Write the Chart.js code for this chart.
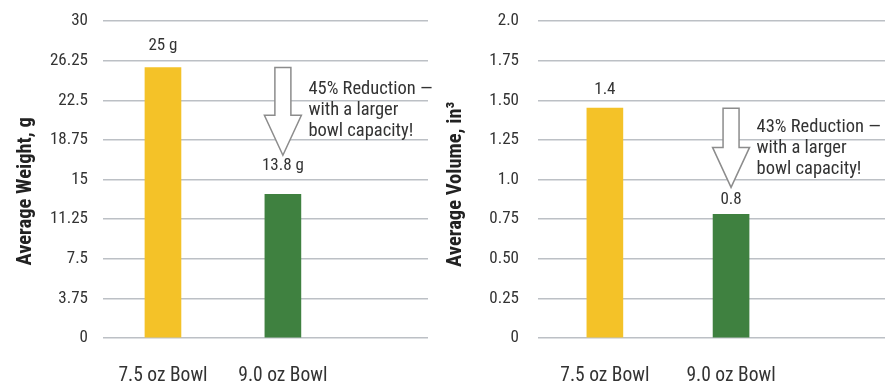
<!DOCTYPE html>
<html>
<head>
<meta charset="utf-8">
<script src="https://cdn.jsdelivr.net/npm/chart.js@4.4.1/dist/chart.umd.min.js"></script>
<style>
  html, body { margin: 0; padding: 0; background: #fff; }
  #wrap { display: flex; width: 886px; height: 385px; }
  .box { position: relative; height: 385px; }
</style>
</head>
<body>
<div id="wrap">
  <div class="box" style="width:440px"><canvas id="weight"></canvas></div>
  <div class="box" style="width:446px"><canvas id="volume"></canvas></div>
</div>
<script>
const categories = ["7.5 oz Bowl", "9.0 oz Bowl"];

const weightValues = [25.6, 13.6];
const weightLabels = ["25 g", "13.8 g"];
const weightTicks = ["0", "3.75", "7.5", "11.25", "15", "18.75", "22.5", "26.25", "30"];
const weightNote = ["45% Reduction \u2014", "with a larger", "bowl capacity!"];

const volumeValues = [1.45, 0.78];
const volumeLabels = ["1.4", "0.8"];
const volumeTicks = ["0", "0.25", "0.50", "0.75", "1.0", "1.25", "1.50", "1.75", "2.0"];
const volumeNote = ["43% Reduction \u2014", "with a larger", "bowl capacity!"];

const barColors = ["#f4c228", "#3f8140"];
const textColor = "#333333";
const fontFamily = "'Roboto Condensed', 'Liberation Sans Narrow', sans-serif";

// labels above the bars + the hollow arrow with its note
const annotations = {
  id: "annotations",
  afterDatasetsDraw(chart, args, opts) {
    const ctx = chart.ctx;
    const bars = chart.getDatasetMeta(0).data;
    const yScale = chart.scales.y;

    ctx.save();
    ctx.fillStyle = textColor;
    ctx.font = "17px " + fontFamily;
    ctx.textAlign = "center";
    ctx.textBaseline = "bottom";
    bars.forEach((bar, i) => {
      ctx.fillText(opts.labels[i], bar.x, bar.y - opts.labelGap[i]);
    });

    // arrow from top of first bar down toward the second
    const cx = bars[1].x;
    const top = bars[0].y;
    const tip = yScale.getPixelForValue(opts.arrowTip);
    const shaft = 8, head = 18.5, headLen = 40;
    const neck = tip - headLen;
    ctx.beginPath();
    ctx.moveTo(cx - shaft, top);
    ctx.lineTo(cx + shaft, top);
    ctx.lineTo(cx + shaft, neck);
    ctx.lineTo(cx + head, neck);
    ctx.lineTo(cx, tip);
    ctx.lineTo(cx - head, neck);
    ctx.lineTo(cx - shaft, neck);
    ctx.closePath();
    ctx.fillStyle = "#ffffff";
    ctx.fill();
    ctx.strokeStyle = "#8c8c8c";
    ctx.lineWidth = 1.5;
    ctx.stroke();

    ctx.fillStyle = textColor;
    ctx.font = "18.5px " + fontFamily;
    ctx.textAlign = "left";
    ctx.textBaseline = "middle";
    opts.note.forEach((line, i) => {
      ctx.fillText(line, cx + head + 7, top + opts.noteOffset + i * 21);
    });
    ctx.restore();
  }
};

function makeChart(id, cfg) {
  return new Chart(document.getElementById(id), {
    type: "bar",
    data: {
      datasets: [{
        data: cfg.values.map((v, i) => ({ x: i + 0.5, y: v })),
        backgroundColor: barColors,
        barThickness: 36,
      }],
    },
    options: {
      responsive: true,
      maintainAspectRatio: false,
      animation: false,
      layout: { padding: { top: 21, right: cfg.padRight, bottom: 0, left: 0 } },
      plugins: {
        legend: { display: false },
        tooltip: { enabled: false },
        annotations: {
          labels: cfg.labels,
          labelGap: cfg.labelGap,
          arrowTip: cfg.arrowTip,
          note: cfg.note,
          noteOffset: cfg.noteOffset,
        },
      },
      scales: {
        x: {
          type: "linear",
          min: cfg.xMin,
          max: cfg.xMax,
          offset: false,
          grid: { display: false, offset: false, drawTicks: false },
          border: { display: false },
          afterBuildTicks: (scale) => {
            scale.ticks = categories.map((c, i) => ({ value: i + 0.5 }));
          },
          afterFit: (scale) => { scale.height = 47; },
          ticks: {
            autoSkip: false,
            maxRotation: 0,
            padding: 26,
            color: textColor,
            font: { family: fontFamily, size: 19.5 },
            callback: (v, i) => categories[i],
          },
        },
        y: {
          min: 0,
          max: cfg.yMax,
          afterBuildTicks: (scale) => {
            scale.ticks = cfg.ticks.map((t, i) => ({ value: (cfg.yMax / 8) * i }));
          },
          afterFit: (scale) => {
            scale.width = cfg.axisWidth;
            scale.paddingTop = 0;
            scale.paddingBottom = 0;
          },
          grid: { color: "#bcc0c5", lineWidth: 1.5, drawTicks: false },
          border: { display: false },
          ticks: {
            padding: cfg.tickPad,
            color: textColor,
            font: { family: fontFamily, size: 17 },
            callback: (v, i) => cfg.ticks[i],
          },
          title: {
            display: true,
            text: cfg.title,
            color: "#222222",
            padding: { top: cfg.titlePad, bottom: 0 },
            font: { family: fontFamily, size: 20.5, weight: "bold" },
          },
        },
      },
    },
    plugins: [annotations],
  });
}

makeChart("weight", {
  values: weightValues,
  labels: weightLabels,
  labelGap: [13, 20],
  ticks: weightTicks,
  yMax: 30,
  xMin: 0,
  xMax: 2.71,
  note: weightNote,
  noteOffset: 22,
  arrowTip: 17.3,
  title: "Average Weight, g     ",
  titlePad: 14,
  tickPad: 15,
  axisWidth: 103,
  padRight: 12,
});

makeChart("volume", {
  values: volumeValues,
  labels: volumeLabels,
  labelGap: [10, 6],
  ticks: volumeTicks,
  yMax: 2.0,
  xMin: -0.03,
  xMax: 2.72,
  note: volumeNote,
  noteOffset: 19,
  arrowTip: 0.95,
  title: "Average Volume, in\u00b3  ",
  titlePad: 4,
  tickPad: 19,
  axisWidth: 98,
  padRight: 1,
});
</script>
</body>
</html>
